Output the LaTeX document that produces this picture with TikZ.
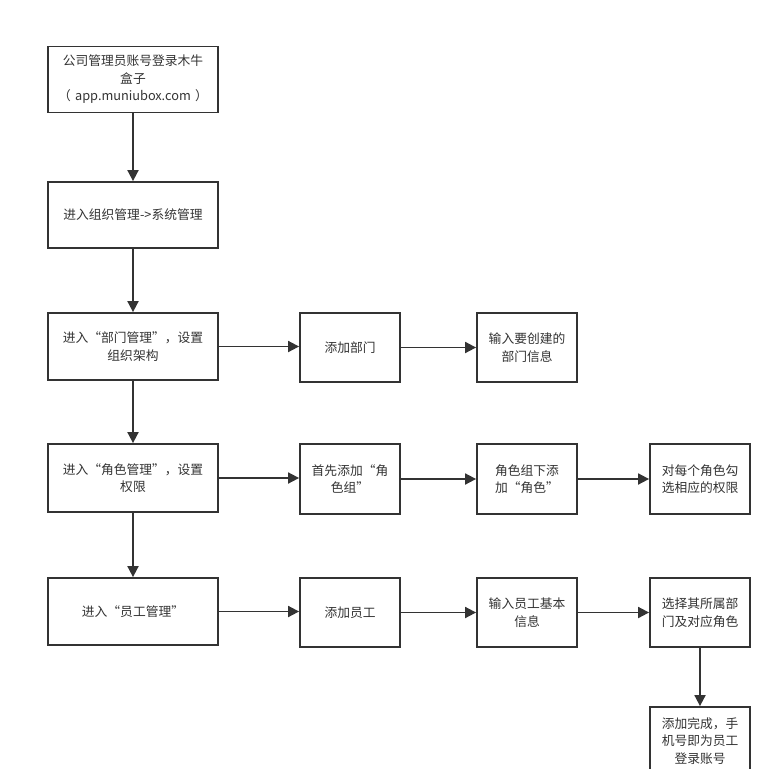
\documentclass[tikz,border=0pt]{standalone}
\usepackage{fontspec}
\setmainfont{Noto Sans CJK SC}
\usetikzlibrary{arrows.meta}
\definecolor{ln}{HTML}{333333}
\begin{document}
\begin{tikzpicture}[x=1bp,y=-1bp,
  box/.style={draw=ln,line width=1.8bp,minimum height=66bp,inner sep=1bp,align=center,
    font=\fontsize{12.8}{17.5}\selectfont,text=ln},
  wide/.style={box,minimum width=170bp,text width=166bp},
  narrow/.style={box,minimum width=100bp,text width=96bp},
  arr/.style={draw=ln,line width=1.8bp,-{Triangle[length=11bp,width=11bp]}}]
\clip (0,0) rectangle (782,769);
\fill[white] (0,0) rectangle (782,769);
\node[wide] (a1) at (133,79.5) {公司管理员账号登录木牛\\盒子\\（ app.muniubox.com ）};
\node[wide] (a2) at (133,215) {进入组织管理->系统管理};
\node[wide,minimum height=67bp] (a3) at (133,346.5) {进入“部门管理”，设置\\组织架构};
\node[narrow,minimum height=69bp] (b3) at (350,347.5) {添加部门};
\node[narrow,minimum height=69bp] (c3) at (527,347.5) {输入要创建的\\部门信息};
\node[wide,minimum height=68bp] (a4) at (133,478) {进入“角色管理”，设置\\权限};
\node[narrow,minimum height=70bp] (b4) at (350,479) {首先添加“角\\色组”};
\node[narrow,minimum height=70bp] (c4) at (527,479) {角色组下添\\加“角色”};
\node[narrow,minimum height=70bp] (d4) at (700,479) {对每个角色勾\\选相应的权限};
\node[wide,minimum height=67bp] (a5) at (133,611.5) {进入“员工管理”};
\node[narrow,minimum height=69bp] (b5) at (350,612.5) {添加员工};
\node[narrow,minimum height=69bp] (c5) at (527,612.5) {输入员工基本\\信息};
\node[narrow,minimum height=69bp] (d5) at (700,612.5) {选择其所属部\\门及对应角色};
\node[narrow,minimum height=68bp] (e5) at (700,741) {添加完成，手\\机号即为员工\\登录账号};
\draw[arr] (a1) -- (a2);
\draw[arr] (a2) -- (a3);
\draw[arr] (a3) -- (a4);
\draw[arr] (a4) -- (a5);
\draw[arr] (a3.east) -- (a3.east -| b3.west);
\draw[arr] (b3) -- (c3);
\draw[arr] (a4.east) -- (a4.east -| b4.west);
\draw[arr] (b4) -- (c4);
\draw[arr] (c4) -- (d4);
\draw[arr] (a5.east) -- (a5.east -| b5.west);
\draw[arr] (b5) -- (c5);
\draw[arr] (c5) -- (d5);
\draw[arr] (d5) -- (e5);
\end{tikzpicture}
\end{document}
